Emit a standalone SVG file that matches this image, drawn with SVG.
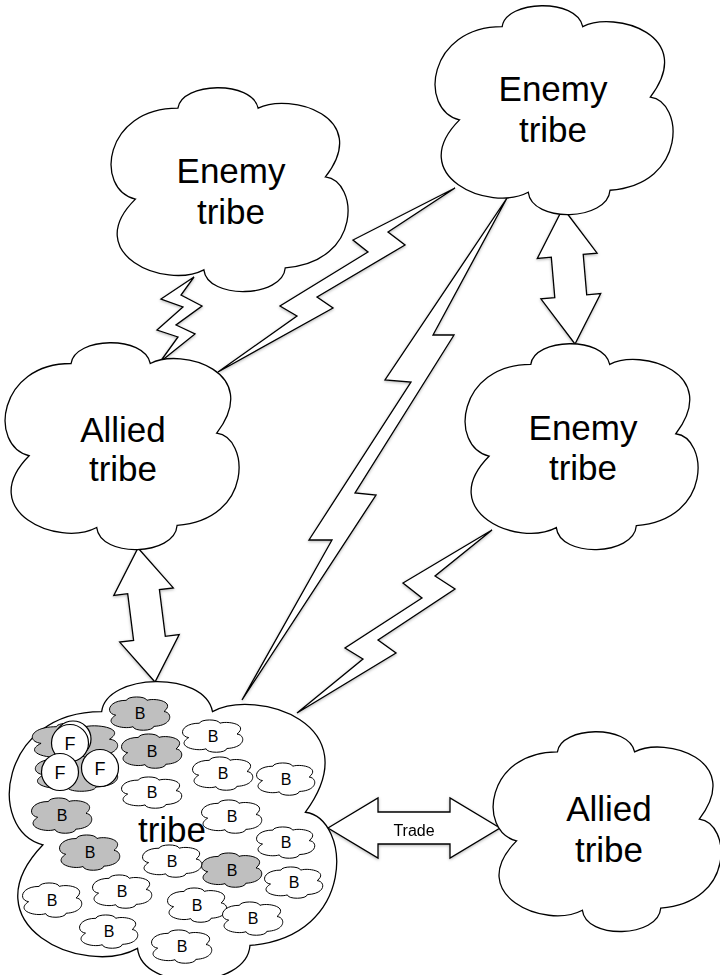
<svg xmlns="http://www.w3.org/2000/svg" xmlns:xlink="http://www.w3.org/1999/xlink" width="720" height="975" viewBox="0 0 720 975">
<style>
.cloud{fill:#fff;stroke:#000;stroke-width:1.3}
.scl{fill:#fff;stroke:#000;stroke-width:1}
.gcl{fill:#bfbfbf;stroke:#000;stroke-width:1}
.big{font-family:"Liberation Sans",Arial,Helvetica,sans-serif;font-size:35px;text-anchor:middle;fill:#000}
.lbl{font-family:"Liberation Sans",Arial,Helvetica,sans-serif;font-size:16px;text-anchor:middle;fill:#000}
.flbl{font-family:"Liberation Sans",Arial,Helvetica,sans-serif;font-size:18px;text-anchor:middle;fill:#000}
.tr{font-family:"Liberation Sans",Arial,Helvetica,sans-serif;font-size:16px;text-anchor:middle;fill:#000}
.conn{fill:#fff;stroke:#000;stroke-width:1.3;stroke-linejoin:miter}
.fc{fill:#fff;stroke:#000;stroke-width:1.2}
</style>
<defs>
<path id="cloud" vector-effect="non-scaling-stroke" d="M27.5 10 C29 -3 59 -4 61.5 10 C75 2 110 14 90 44 C104 46 106 86 73 89 C72 104 40 105 38.5 90 C22 100 -14 82 9.5 55 C-8 50 -4 10 27.5 10 Z"/>
<filter id="sh" x="-20%" y="-20%" width="140%" height="140%">
<feDropShadow dx="0" dy="1" stdDeviation="1.4" flood-color="#000" flood-opacity="0.3"/>
</filter>
</defs>

<g id="connectors" filter="url(#sh)">
<polygon class="conn" points="194,277 161,299 183,307 157,330 178,337 160,362 195,334 176,325 202,306 181,295"/>
<polygon class="conn" points="455,188 353,240 368,252 280,306 297,316 218,372 333,308 317,297 405,245 388,232"/>
<polygon class="conn" points="507,198 385,380 411,382 309,540 332,540 242,700 376,495 355,493 454,335 433,335"/>
<polygon class="conn" points="492,530 403,583 422,598 345,648 363,659 297,713 396,653 378,640 455,589 435,576"/>
<polygon class="conn" points="563,208 597.1,253.2 583.2,254.4 586.7,294.8 600.7,293.6 575,344 540.9,298.8 554.8,297.6 551.3,257.2 537.3,258.4"/>
<polygon class="conn" points="138,548 173.3,587.9 159.4,589.6 165.3,636.3 179.2,634.6 155,682 119.7,642.1 133.6,640.4 127.7,593.7 113.8,595.4"/>
<g id="trade">
<polygon class="conn" points="328,828 378,798 378,812 450,812 450,798 500,828 450,858 450,844 378,844 378,858"/>
<text class="tr" x="414" y="836">Trade</text>
</g>
</g>

<g id="enemy-tribe-1">
<use href="#cloud" class="cloud" transform="translate(113 88) scale(2.36 2.02)"/>
<text class="big" x="231" y="183">Enemy</text>
<text class="big" x="231" y="224">tribe</text>
</g>

<g id="enemy-tribe-2">
<use href="#cloud" class="cloud" transform="translate(437 6) scale(2.37 2.07)"/>
<text class="big" x="553" y="101">Enemy</text>
<text class="big" x="553" y="142">tribe</text>
</g>

<g id="allied-tribe-1">
<use href="#cloud" class="cloud" transform="translate(7 343) scale(2.33 2.05)"/>
<text class="big" x="123" y="442">Allied</text>
<text class="big" x="123" y="481">tribe</text>
</g>

<g id="enemy-tribe-3">
<use href="#cloud" class="cloud" transform="translate(467 344) scale(2.32 2.04)"/>
<text class="big" x="583" y="440">Enemy</text>
<text class="big" x="583" y="480">tribe</text>
</g>

<g id="allied-tribe-2">
<use href="#cloud" class="cloud" transform="translate(495 732) scale(2.27 1.98)"/>
<text class="big" x="609" y="821">Allied</text>
<text class="big" x="609" y="862">tribe</text>
</g>

<g id="tribe">
<use href="#cloud" class="cloud" transform="translate(12 682) scale(3.26 2.96)"/>
<g id="family">
<use href="#cloud" class="gcl" transform="translate(33 723) scale(0.85 0.37)"/>
<use href="#cloud" class="gcl" transform="translate(36 755) scale(0.82 0.36)"/>
<circle class="fc" cx="73" cy="739" r="18"/>
<circle class="fc" cx="70" cy="743" r="18.5"/>
<text class="flbl" x="70" y="750">F</text>
<circle class="fc" cx="60" cy="772" r="18.5"/>
<text class="flbl" x="60" y="779">F</text>
<circle class="fc" cx="100" cy="768" r="18.5"/>
<text class="flbl" x="100" y="775">F</text>
</g>
<g id="b-gray">
<use href="#cloud" class="gcl" transform="translate(110 697) scale(0.6 0.33)"/>
<text class="lbl" x="140" y="719">B</text>
<use href="#cloud" class="gcl" transform="translate(122 734) scale(0.6 0.34)"/>
<text class="lbl" x="152" y="757">B</text>
<use href="#cloud" class="gcl" transform="translate(32 798) scale(0.6 0.35)"/>
<text class="lbl" x="62" y="821">B</text>
<use href="#cloud" class="gcl" transform="translate(60 835) scale(0.6 0.35)"/>
<text class="lbl" x="90" y="858">B</text>
<use href="#cloud" class="gcl" transform="translate(202 853) scale(0.6 0.34)"/>
<text class="lbl" x="232" y="876">B</text>
</g>
<g id="b-white">
<use href="#cloud" class="scl" transform="translate(183 720) scale(0.6 0.32)"/>
<text class="lbl" x="213" y="742">B</text>
<use href="#cloud" class="scl" transform="translate(193 757) scale(0.6 0.33)"/>
<text class="lbl" x="223" y="779">B</text>
<use href="#cloud" class="scl" transform="translate(257 763) scale(0.58 0.32)"/>
<text class="lbl" x="286" y="785">B</text>
<use href="#cloud" class="scl" transform="translate(122 777) scale(0.6 0.31)"/>
<text class="lbl" x="152" y="798">B</text>
<use href="#cloud" class="scl" transform="translate(202 800) scale(0.6 0.33)"/>
<text class="lbl" x="232" y="822">B</text>
<use href="#cloud" class="scl" transform="translate(257 827) scale(0.58 0.31)"/>
<text class="lbl" x="286" y="848">B</text>
<use href="#cloud" class="scl" transform="translate(143 845) scale(0.59 0.32)"/>
<text class="lbl" x="172" y="867">B</text>
<use href="#cloud" class="scl" transform="translate(265 867) scale(0.58 0.31)"/>
<text class="lbl" x="294" y="888">B</text>
<use href="#cloud" class="scl" transform="translate(23 883) scale(0.59 0.34)"/>
<text class="lbl" x="52" y="906">B</text>
<use href="#cloud" class="scl" transform="translate(93 875) scale(0.59 0.33)"/>
<text class="lbl" x="122" y="897">B</text>
<use href="#cloud" class="scl" transform="translate(168 888) scale(0.59 0.34)"/>
<text class="lbl" x="197" y="911">B</text>
<use href="#cloud" class="scl" transform="translate(223 902) scale(0.6 0.33)"/>
<text class="lbl" x="253" y="924">B</text>
<use href="#cloud" class="scl" transform="translate(80 915) scale(0.58 0.33)"/>
<text class="lbl" x="109" y="937">B</text>
<use href="#cloud" class="scl" transform="translate(152 930) scale(0.6 0.33)"/>
<text class="lbl" x="182" y="952">B</text>
</g>
<text class="big" x="172" y="842">tribe</text>
</g>
</svg>
